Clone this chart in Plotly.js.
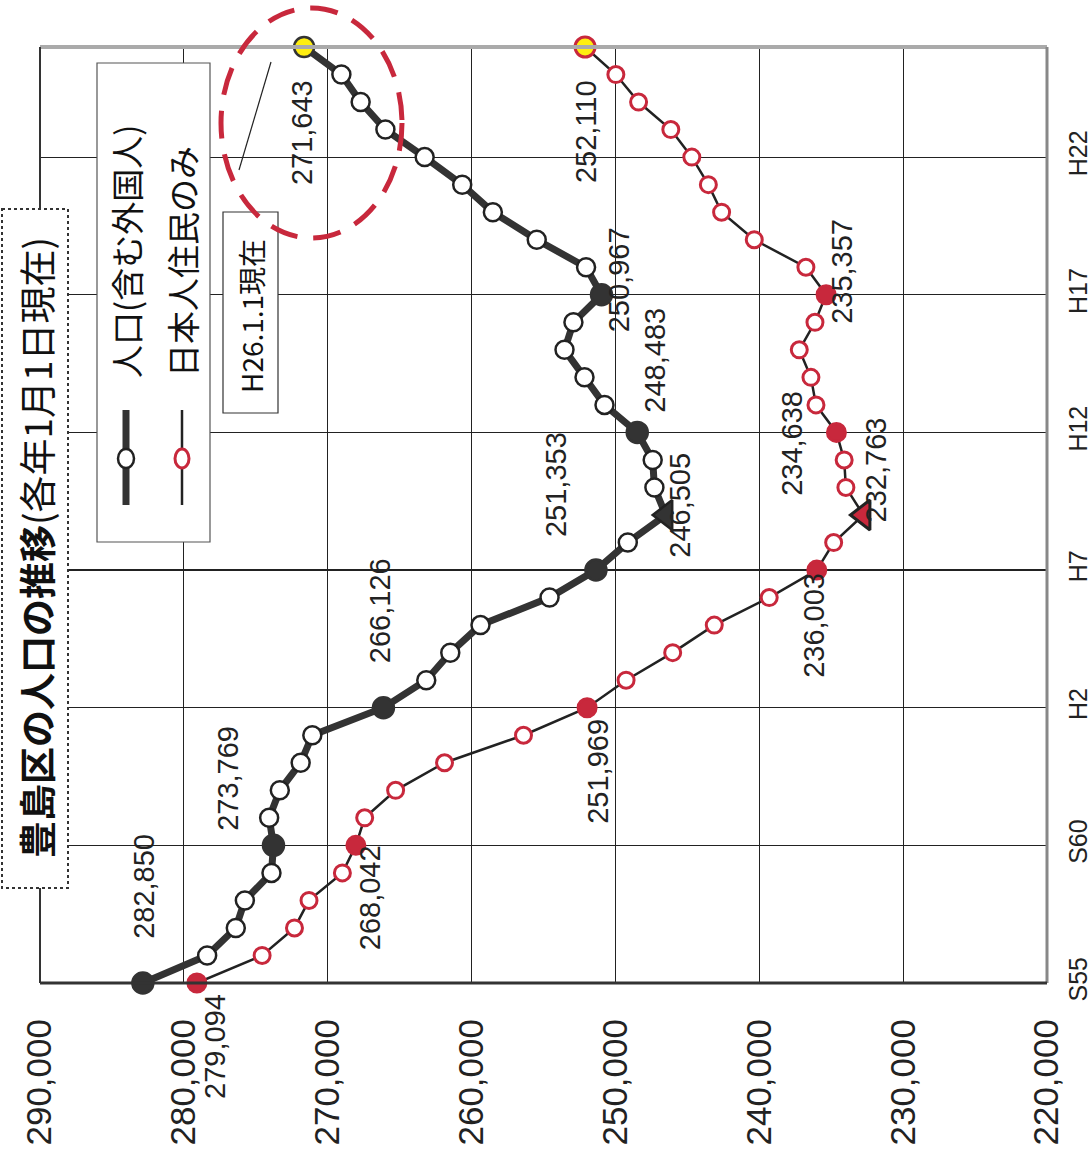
<!DOCTYPE html>
<html>
<head>
<meta charset="utf-8">
<script src="https://cdn.plot.ly/plotly-3.0.1.min.js"></script>
<style>html,body{margin:0;padding:0;background:#fff;}#chart{width:1092px;height:1165px;}</style>
</head>
<body>
<div id="chart"></div>
<script>
// ---- data ----
const years = [1980,1981,1982,1983,1984,1985,1986,1987,1988,1989,1990,1991,1992,1993,1994,1995,1996,1997,1998,1999,2000,2001,2002,2003,2004,2005,2006,2007,2008,2009,2010,2011,2012,2013,2014];
const totalPop = [282850,278380,276390,275760,273910,273769,274070,273330,271880,271070,266126,263150,261480,259380,254580,251353,249140,246505,247290,247410,248483,250760,252150,253540,252920,250967,252040,255470,258520,260650,263260,265990,267710,269050,271643];
const japanesePop = [279094,274560,272310,271300,268980,268042,267430,265280,261880,256390,251969,249260,246020,243130,239310,236003,234830,232763,233980,234100,234638,236060,236410,237220,236130,235357,236760,240350,242620,243540,244690,246150,248390,249970,252110];
const milestoneYears = [1980,1985,1990,1995,2000,2005];
const minimumYear = 1997;
const latestYear = 2014;
const labeledYearsTotal = [1980,1985,1990,1995,1997,2000,2005,2014];
const labeledYearsJapanese = [1980,1985,1990,1995,1997,2000,2005,2014];
const yearTickVals = [1980,1985,1990,1995,2000,2005,2010];
const yearTickText = ['S55','S60','H2','H7','H12','H17','H22'];
const popTickVals = [290000,280000,270000,260000,250000,240000,230000,220000];
const popTickText = ['290,000','280,000','270,000','260,000','250,000','240,000','230,000','220,000'];
const titleBold = '豊島区の人口の推移';
const titleRest = '(各年1月1日現在)';
const seriesNames = ['人口(含む外国人)','日本人住民のみ'];
const noteText = 'H26.1.1現在';

// ---- geometry helpers (plot area in pixels) ----
const PL=40, PR=1047, PT=47, PB=983;
const px = x => (x-PL)/(PR-PL);
const py = y => (PB-y)/(PB-PT);
const NUM = 'Liberation Sans, Arial, sans-serif';
const JP = 'Noto Sans CJK JP, sans-serif';
const RED = '#c8283c';

function fmt(v){ return v.toLocaleString('en-US'); }

function markerStyle(kind){
  const sym=[], size=[], fill=[], border=[];
  years.forEach(y=>{
    if (y===latestYear){ sym.push('circle'); size.push(20); fill.push('#ffee10'); border.push(kind==='total'?'#333':RED); }
    else if (y===minimumYear){ sym.push('triangle-left'); size.push(26); fill.push(kind==='total'?'#333':RED); border.push('#222'); }
    else if (milestoneYears.includes(y)){ sym.push('circle'); size.push(kind==='total'?21:18); fill.push(kind==='total'?'#333':RED); border.push(kind==='total'?'#333':RED); }
    else { sym.push('circle'); size.push(kind==='total'?18:16); fill.push('#fff'); border.push(kind==='total'?'#222':RED); }
  });
  return {symbol:sym, size:size, color:fill, opacity:1, line:{color:border, width:kind==='total'?2.5:3}};
}

const traces = [
  {x: japanesePop, y: years, type:'scatter', mode:'lines+markers', cliponaxis:false,
   line:{color:'#222', width:2.5}, marker: markerStyle('jp'), hoverinfo:'skip', showlegend:false},
  {x: totalPop, y: years, type:'scatter', mode:'lines+markers', cliponaxis:false,
   line:{color:'#333', width:7}, marker: markerStyle('total'), hoverinfo:'skip', showlegend:false}
];

// label offsets in pixels (xshift, yshift) per labeled year
const totalLabelShift = {1980:[1,97],1985:[-45,67],1990:[-4,97],1995:[-40,86],1997:[14,10],2000:[18,72],2005:[17,15],2014:[-2,-86]};
const jpLabelShift = {1980:[18,-63],1985:[14,-52],1990:[11,-64],1995:[-3,-55],1997:[13,45],2000:[-44,-11],2005:[16,23],2014:[1,-85]};

const annotations = [];
function addLabels(series, labeled, shifts){
  labeled.forEach(yr=>{
    const i = years.indexOf(yr);
    const s = shifts[yr];
    annotations.push({x: series[i], y: yr, xref:'x', yref:'y', text: fmt(series[i]), showarrow:false,
      xanchor:'center', yanchor:'middle',
      textangle:-90, xshift:s[0], yshift:s[1], font:{family:NUM, size:29, color:'#222'}});
  });
}
addLabels(totalPop, labeledYearsTotal, totalLabelShift);
addLabels(japanesePop, labeledYearsJapanese, jpLabelShift);

function paperText(x, y, text, size, family){
  annotations.push({xref:'paper', yref:'paper', x:px(x), y:py(y), xanchor:'center', yanchor:'middle',
    showarrow:false, textangle:-90, text:text, font:{family:family, size:size, color:'#111'}});
}
paperText(36, 548, '<b>'+titleBold+'</b>'+titleRest, 37, JP);
paperText(126, 252, seriesNames[0], 33, JP);
paperText(182, 262, seriesNames[1], 33, JP);
paperText(251, 316, noteText, 28, JP);

const shapes = [
  // borders
  {type:'line', xref:'paper', yref:'paper', x0:0, x1:1, y0:1, y1:1, line:{color:'#aaa', width:4}},
  {type:'line', xref:'paper', yref:'paper', x0:1, x1:1, y0:0, y1:1, line:{color:'#888', width:3}},
  {type:'line', xref:'paper', yref:'paper', x0:0, x1:1, y0:0, y1:0, line:{color:'#333', width:3}},
  {type:'line', xref:'paper', yref:'paper', x0:0, x1:0, y0:0, y1:1, line:{color:'#333', width:2}},
  // title box
  {type:'rect', xref:'paper', yref:'paper', x0:px(2), x1:px(68), y0:py(209), y1:py(888), layer:'above',
   fillcolor:'#fff', line:{color:'#333', width:2, dash:'dot'}},
  // legend box
  {type:'rect', xref:'paper', yref:'paper', x0:px(97), x1:px(210), y0:py(63), y1:py(542), layer:'above',
   fillcolor:'#fff', line:{color:'#555', width:1.2}},
  {type:'line', xref:'paper', yref:'paper', x0:px(126), x1:px(126), y0:py(410), y1:py(505), layer:'above', line:{color:'#333', width:7}},
  {type:'circle', xref:'paper', yref:'paper', x0:px(118), x1:px(134), y0:py(449), y1:py(468), layer:'above', fillcolor:'#fff', line:{color:'#222', width:2.5}},
  {type:'line', xref:'paper', yref:'paper', x0:px(182), x1:px(182), y0:py(410), y1:py(505), layer:'above', line:{color:'#222', width:2.5}},
  {type:'circle', xref:'paper', yref:'paper', x0:px(175), x1:px(189), y0:py(449), y1:py(468), layer:'above', fillcolor:'#fff', line:{color:RED, width:3}},
  // note box + connector
  {type:'rect', xref:'paper', yref:'paper', x0:px(223), x1:px(278), y0:py(212), y1:py(413), layer:'above',
   fillcolor:'#fff', line:{color:'#333', width:1.2}},
  {type:'line', xref:'paper', yref:'paper', x0:px(271), x1:px(239), y0:py(62), y1:py(170), layer:'above', line:{color:'#222', width:1.2}},
  // dashed highlight ellipse
  {type:'circle', xref:'paper', yref:'paper', x0:px(221), x1:px(402), y0:py(8), y1:py(238), layer:'above',
   line:{color:RED, width:5, dash:'28px,16px'}}
];

const layout = {
  width:1092, height:1165,
  margin:{l:PL, r:1092-PR, t:PT, b:1165-PB, pad:0},
  paper_bgcolor:'#fff', plot_bgcolor:'#fff',
  showlegend:false,
  xaxis:{range:[290000,220000], tickvals:popTickVals, ticktext:popTickText, tickangle:-90,
    showgrid:true, gridcolor:'#222', gridwidth:1.2, zeroline:false, showline:false, ticks:'',
    ticklabelstandoff:28, tickfont:{family:NUM, size:35, color:'#222'}, fixedrange:true},
  yaxis:{range:[1980,2014], tickvals:yearTickVals, ticktext:yearTickText, side:'right', tickangle:-90,
    showgrid:true, gridcolor:'#222', gridwidth:1.2, zeroline:false, showline:false, ticks:'',
    ticklabelstandoff:14, tickfont:{family:NUM, size:25, color:'#222'}, fixedrange:true},
  annotations:annotations,
  shapes:shapes
};

Plotly.newPlot('chart', traces, layout, {staticPlot:true, displayModeBar:false});
</script>
</body>
</html>
